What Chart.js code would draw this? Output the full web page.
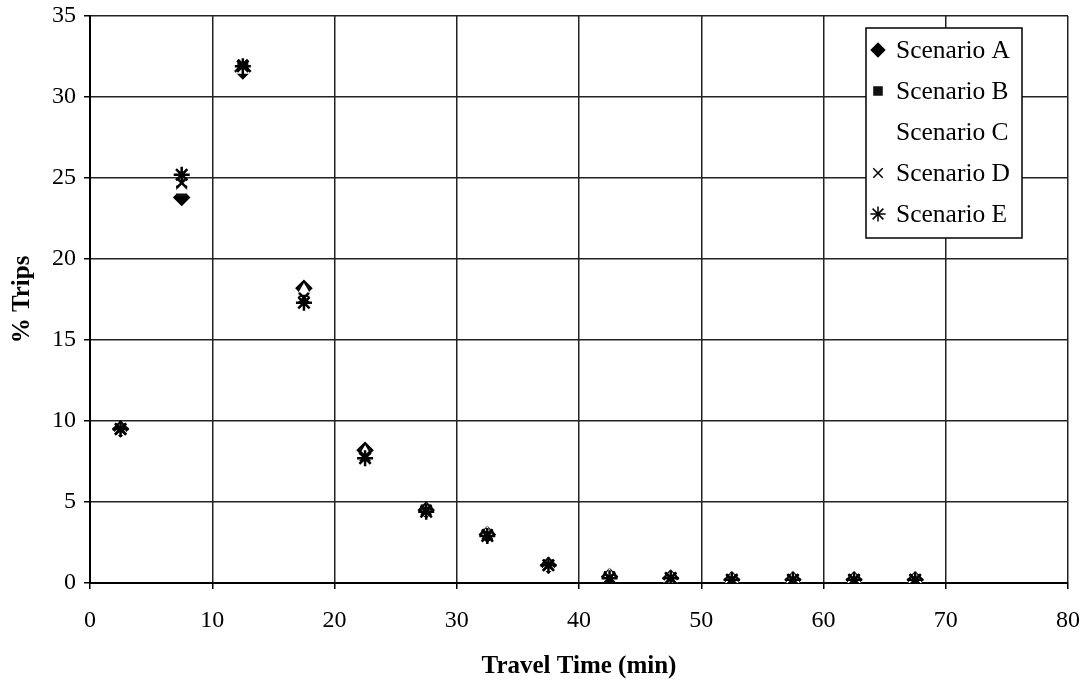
<!DOCTYPE html>
<html>
<head>
<meta charset="utf-8">
<script src="https://cdn.jsdelivr.net/npm/chart.js@4/dist/chart.umd.min.js"></script>
<style>
  html, body { margin: 0; padding: 0; background: #fff; }
  #wrap { width: 1080px; height: 683px; position: relative; }
</style>
</head>
<body>
<div id="wrap"><canvas id="myChart"></canvas></div>
<script>
// travel time bin centres (min)
var travelTime = [2.5, 7.5, 12.5, 17.5, 22.5, 27.5, 32.5, 37.5, 42.5, 47.5, 52.5, 57.5, 62.5, 67.5];

// % trips per scenario
var scenarioA = [9.5, 23.8, 31.6, 18.2, 8.2, 4.5, 3.0, 1.1, 0.4, 0.3, 0.2, 0.2, 0.2, 0.2];
var scenarioB = [9.5, 24.2, 31.8, 18.0, 8.0, 4.5, 3.0, 1.1, 0.4, 0.3, 0.2, 0.2, 0.2, 0.2];
var scenarioC = [9.4, 24.3, 31.7, 18.0, 8.0, 4.4, 3.0, 1.0, 0.4, 0.3, 0.2, 0.2, 0.2, 0.2];
var scenarioD = [9.5, 24.7, 32.0, 17.6, 7.8, 4.5, 3.0, 1.1, 0.3, 0.3, 0.2, 0.2, 0.2, 0.2];
var scenarioE = [9.5, 25.2, 31.9, 17.3, 7.7, 4.4, 2.9, 1.1, 0.3, 0.3, 0.2, 0.2, 0.2, 0.2];

var xTicks = [0, 10, 20, 30, 40, 50, 60, 70, 80];
var yTicks = [0, 5, 10, 15, 20, 25, 30, 35];

var serif = "'Liberation Serif', 'Times New Roman', serif";

function toPoints(ys) {
    return ys.map(function(y, i){ return {x: travelTime[i], y: y}; });
}

var series = [
    {label: 'Scenario A', data: scenarioA, style: 'rectRot', r: 7, fill: '#000', stroke: '#000', order: 4},
    {label: 'Scenario B', data: scenarioB, style: 'rect', r: 6, fill: '#111', stroke: '#111', order: 3},
    {label: 'Scenario C', data: scenarioC, style: 'triangle', r: 6, fill: '#fff', stroke: '#fff', order: 2},
    {label: 'Scenario D', data: scenarioD, style: 'crossRot', r: 7, fill: '#000', stroke: '#000', order: 1},
    {label: 'Scenario E', data: scenarioE, style: 'star', r: 8, fill: '#000', stroke: '#000', order: 0}
];

// legend box drawn inside the plot, like the original
var boxLegend = {
    id: 'boxLegend',
    afterDraw: function(chart) {
        var ctx = chart.ctx;
        var x0 = 866, y0 = 28, w = 156, h = 210;
        ctx.save();
        ctx.fillStyle = '#fff';
        ctx.fillRect(x0, y0, w, h);
        ctx.strokeStyle = '#000';
        ctx.lineWidth = 1.5;
        ctx.strokeRect(x0, y0, w, h);
        ctx.font = '25.5px ' + serif;
        ctx.textBaseline = 'middle';
        series.forEach(function(s, i){
            var cy = y0 + 22 + i * 41;
            ctx.fillStyle = s.fill;
            ctx.strokeStyle = s.stroke;
            Chart.helpers.drawPoint(ctx, {
                pointStyle: s.style, radius: s.r * 0.95, rotation: 0, borderWidth: 2
            }, x0 + 12, cy);
            ctx.fillStyle = '#000';
            ctx.fillText(s.label, x0 + 30, cy + 1);
        });
        ctx.restore();
    }
};

var ctx = document.getElementById('myChart');

new Chart(ctx, {
    type: 'scatter',
    data: {
        datasets: series.map(function(s){
            return {
                label: s.label,
                data: toPoints(s.data),
                pointStyle: s.style,
                pointRadius: s.r,
                pointHoverRadius: s.r,
                backgroundColor: s.fill,
                borderColor: s.stroke,
                borderWidth: 2.5,
                order: s.order
            };
        })
    },
    options: {
        responsive: true,
        maintainAspectRatio: false,
        animation: false,
        layout: { padding: { top: 0, right: 0, left: 4, bottom: 0 } },
        plugins: {
            legend: { display: false },
            tooltip: { enabled: false }
        },
        scales: {
            x: {
                type: 'linear',
                min: 0,
                max: 80,
                afterBuildTicks: function(scale){
                    scale.ticks = xTicks.map(function(v){ return {value: v}; });
                },
                afterFit: function(scale){
                    scale.height = 100;
                    scale.paddingLeft = 0;
                    scale.paddingRight = 12;
                },
                grid: { color: '#222', lineWidth: 1.5, tickLength: 6, tickColor: '#000' },
                border: { color: '#000', width: 2 },
                ticks: { color: '#000', font: { family: serif, size: 24 }, padding: 17 },
                title: {
                    display: true,
                    text: 'Travel Time (min)',
                    color: '#000',
                    font: { family: serif, size: 25, weight: 'bold' },
                    padding: { top: 2, bottom: 1 }
                }
            },
            y: {
                min: 0,
                max: 35,
                afterBuildTicks: function(scale){
                    scale.ticks = yTicks.map(function(v){ return {value: v}; });
                },
                afterFit: function(scale){
                    scale.width = 86;
                    scale.paddingTop = 16;
                    scale.paddingBottom = 0;
                },
                grid: { color: '#222', lineWidth: 1.5, tickLength: 6, tickColor: '#000' },
                border: { color: '#000', width: 2 },
                ticks: { color: '#000', font: { family: serif, size: 24 }, padding: 8 },
                title: {
                    display: true,
                    text: '% Trips',
                    color: '#000',
                    font: { family: serif, size: 25, weight: 'bold' },
                    padding: { top: 4, bottom: 4 }
                }
            }
        }
    },
    plugins: [boxLegend]
});
</script>
</body>
</html>
